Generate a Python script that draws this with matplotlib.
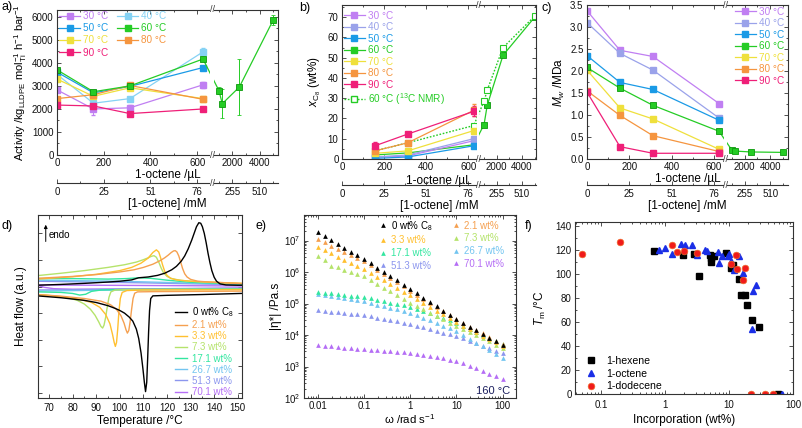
import numpy as np
import matplotlib
matplotlib.use("Agg")
import matplotlib.pyplot as plt
from matplotlib.lines import Line2D
from matplotlib.ticker import MultipleLocator, FormatStrFormatter, LogLocator, NullFormatter

plt.rcParams['font.family'] = ['Liberation Sans', 'DejaVu Sans']
plt.rcParams['mathtext.fontset'] = 'custom'
plt.rcParams['mathtext.rm'] = 'Liberation Sans'
plt.rcParams['mathtext.it'] = 'Liberation Sans:italic'
plt.rcParams['mathtext.bf'] = 'Liberation Sans:bold'
plt.rcParams['axes.linewidth'] = 0.8
plt.rcParams['axes.edgecolor'] = '#333333'
plt.rcParams['xtick.labelsize'] = 7
plt.rcParams['ytick.labelsize'] = 7
plt.rcParams['axes.labelsize'] = 8.5

# ---------------- data: (a)-(c) 1-octene series ----------------
vol_low = [0, 156, 312, 625]
vol_high = [1000, 1250, 2500, 5000]
vol_b = [156, 312, 625]
vol_ticks = [0, 200, 400, 600, 2000, 4000]
vol_tick_labels = ['0', '200', '400', '600', '2000', '4000']
conc_tick_labels = ['0', '25', '51', '76', '255', '510']
vol_minor = [100, 300, 500, 1000, 3000, 5000]
temp_labels = ['30 °C', '40 °C', '50 °C', '60 °C', '70 °C', '80 °C', '90 °C']

# (a) activity
act_30 = [2830, 2000, 2050, 3050]
act_40 = [3500, 2250, 2450, 4480]
act_50 = [3600, 2700, 2980, 3800]
act_60 = [3700, 2750, 3000, 4170]
act_60_hi = [2800, 2230, 2950, 5870]
act_70 = [3300, 2550, 2920, 2450]
act_80 = [2450, 2620, 3020, 2420]
act_90 = [2170, 2130, 1800, 2000]
err_30 = [80, 250, 120, 120]
err_40 = [60, 350, 80, 150]
err_50 = [50, 80, 60, 60]
err_60 = [60, 60, 60, 80]
err_60_hi = [150, 620, 1220, 200]
err_70 = [60, 60, 60, 60]
err_80 = [60, 80, 60, 60]
err_90 = [50, 80, 100, 50]

# (b) comonomer incorporation
xc_30 = [0.8, 1.5, 9.0]
xc_40 = [1.0, 2.0, 10.0]
xc_50 = [0.3, 1.0, 6.5]
xc_60 = [2.0, 3.0, 7.0]
xc_60_hi = [17.0, 26.5, 51.2, 70.0]
xc_70 = [2.8, 4.0, 14.0]
xc_80 = [4.0, 8.0, 24.0]
xc_90 = [6.5, 12.3, 23.5]
xc_err_80 = [0.5, 0.5, 3.0]
xc_err_90 = [2.0, 0.6, 2.5]
nmr_60 = [4.0, 8.0, 16.5]
nmr_60_hi = [28.5, 34.0, 55.0, 70.5]

# (c) Mw
mw_30 = [3.37, 2.47, 2.33, 1.26]
mw_40 = [3.10, 2.40, 2.02, 0.93]
mw_50 = [2.35, 1.74, 1.58, 0.88]
mw_60 = [2.08, 1.61, 1.22, 0.63]
mw_60_hi = [0.20, 0.18, 0.16, 0.15]
mw_70 = [2.02, 1.16, 0.91, 0.22]
mw_80 = [1.55, 0.99, 0.53, 0.17]
mw_90 = [1.52, 0.28, 0.13, 0.13]

col_30 = '#c07ff2'
col_40a = '#85d2f4'
col_40 = '#9aa2ea'
col_50 = '#1a9ae6'
col_60 = '#25cc25'
col_70 = '#efe03c'
col_80 = '#f5953f'
col_90 = '#ef1f78'

# ---------------- data: (d) DSC, (e) rheology ----------------
sample_labels = ['0 wt% C$_8$', '2.1 wt%', '3.3 wt%', '7.3 wt%',
                 '17.1 wt%', '26.7 wt%', '51.3 wt%', '70.1 wt%']
sample_colors = ['#000000', '#f5a050', '#ffc030', '#b5e36b',
                 '#33e6a0', '#73c5f0', '#8c96ee', '#b56ef5']

heat_T_0 = [65, 75, 85, 95, 100, 105, 108, 112, 116, 119, 122, 124, 126, 127.5, 129, 130.5, 131.5,
            132.5, 133.5, 134.3, 135, 135.8, 136.6, 137.4, 138.2, 139, 140, 141, 142.5, 145, 150, 155]
heat_y_0 = [0.05, 0.08, 0.12, 0.17, 0.2, 0.25, 0.33, 0.36, 0.42, 0.5, 0.63, 0.76, 0.95, 1.15, 1.42, 1.75, 2.0,
            2.25, 2.4, 2.38, 2.25, 2.0, 1.65, 1.25, 0.9, 0.6, 0.35, 0.2, 0.1, 0.06, 0.05, 0.05]
cool_T_0 = [65, 75, 85, 90, 95, 98, 100, 102, 104, 105.5, 107, 108, 109, 109.8, 110.4, 110.9, 111.4,
            111.8, 112.2, 112.6, 113.1, 114, 120, 135, 155]
cool_y_0 = [-0.35, -0.42, -0.52, -0.6, -0.72, -0.82, -0.9, -1.0, -1.15, -1.3, -1.6, -1.95, -2.5, -3.1, -3.6, -3.95, -3.6,
            -2.7, -1.7, -0.9, -0.45, -0.35, -0.33, -0.3, -0.25]
heat_T_2 = [65, 80, 90, 100, 106, 110, 114, 117, 119, 120.5, 121.8, 122.8, 123.5, 124.2, 125, 125.8,
            126.6, 127.5, 128.5, 130, 133, 138, 145, 155]
heat_y_2 = [0.31, 0.38, 0.45, 0.55, 0.63, 0.72, 0.84, 0.97, 1.08, 1.18, 1.28, 1.34, 1.35, 1.3, 1.15, 0.92,
            0.68, 0.48, 0.36, 0.27, 0.2, 0.17, 0.14, 0.1]
cool_T_2 = [65, 75, 85, 92, 96, 98.5, 100.5, 101.8, 102.6, 103.2, 103.8, 104.4, 105, 105.6, 106.3, 107.5, 115, 155]
cool_y_2 = [-0.3, -0.36, -0.45, -0.55, -0.68, -0.85, -1.1, -1.38, -1.62, -1.75, -1.65, -1.3, -0.85, -0.45,
            -0.25, -0.2, -0.19, -0.17]
heat_T_3 = [65, 80, 90, 100, 105, 109, 112, 114, 115.5, 116.5, 117.3, 118.1, 119, 120, 121.5, 124, 130, 140, 155]
heat_y_3 = [0.28, 0.37, 0.46, 0.6, 0.72, 0.88, 1.07, 1.28, 1.38, 1.3, 1.08, 0.82, 0.58, 0.42, 0.31, 0.25, 0.2, 0.16, 0.11]
cool_T_3 = [65, 75, 83, 88, 91.5, 94, 95.8, 96.9, 97.6, 98.1, 98.6, 99.1, 99.6, 100.2, 101, 103, 110, 155]
cool_y_3 = [-0.3, -0.38, -0.48, -0.6, -0.78, -1.05, -1.4, -1.8, -2.1, -2.25, -2.1, -1.6, -0.95, -0.45,
            -0.22, -0.15, -0.13, -0.12]
heat_T_7 = [65, 75, 85, 95, 102, 107, 110, 112, 113.5, 114.5, 115.5, 116.5, 117.5, 118.5, 120, 122, 126, 135, 155]
heat_y_7 = [0.41, 0.5, 0.6, 0.72, 0.82, 0.92, 1.01, 1.08, 1.14, 1.16, 1.1, 0.92, 0.7, 0.52, 0.38, 0.3, 0.23, 0.17, 0.1]
cool_T_7 = [65, 72, 78, 82, 85, 87.5, 89.5, 91, 92, 92.7, 93.3, 94, 94.7, 95.4, 96.2, 98, 105, 155]
cool_y_7 = [-0.3, -0.35, -0.42, -0.52, -0.66, -0.85, -1.08, -1.32, -1.5, -1.56, -1.45, -1.15, -0.75, -0.4,
            -0.2, -0.13, -0.11, -0.1]
heat_T_17 = [65, 80, 95, 103, 108, 113, 120, 130, 155]
heat_y_17 = [0.3, 0.3, 0.28, 0.3, 0.33, 0.31, 0.24, 0.16, 0.08]
cool_T_17 = [65, 75, 80, 83, 85.5, 88, 92, 100, 155]
cool_y_17 = [-0.2, -0.22, -0.26, -0.32, -0.29, -0.18, -0.13, -0.11, -0.09]
heat_T_26 = [65, 100, 130, 155]
heat_y_26 = [0.24, 0.2, 0.13, 0.08]
cool_T_26 = [65, 90, 155]
cool_y_26 = [-0.17, -0.14, -0.08]
heat_T_51 = [65, 110, 155]
heat_y_51 = [0.2, 0.14, 0.06]
cool_T_51 = [65, 155]
cool_y_51 = [-0.13, -0.06]
heat_T_70 = [65, 110, 155]
heat_y_70 = [0.06, 0.04, 0.02]
cool_T_70 = [65, 68, 72, 80, 120, 155]
cool_y_70 = [0.05, -0.03, -0.08, -0.1, -0.08, -0.05]

freq = [0.01, 0.0139, 0.0193, 0.0268, 0.0373, 0.0518, 0.072, 0.1, 0.139, 0.193, 0.268, 0.373, 0.518, 0.72,
        1, 1.39, 1.93, 2.68, 3.73, 5.18, 7.2, 10, 13.9, 19.3, 26.8, 37.3, 51.8, 72, 100]
eta_0 = [1.82e7, 1.38e7, 1.05e7, 7.9e6, 5.9e6, 4.5e6, 3.4e6, 2.6e6, 1.9e6, 1.38e6, 1.02e6, 7.4e5, 5.5e5, 4.0e5,
         2.95e5, 2.14e5, 1.55e5, 1.12e5, 8.1e4, 6.0e4, 4.4e4, 3.2e4, 2.4e4, 1.86e4, 1.41e4, 1.07e4, 8.1e3, 6.3e3, 4.8e3]
eta_2 = [1.1e7, 8.7e6, 6.9e6, 5.5e6, 4.4e6, 3.5e6, 2.75e6, 2.2e6, 1.62e6, 1.17e6, 8.7e5, 6.5e5, 4.7e5, 3.5e5,
         2.57e5, 1.9e5, 1.41e5, 1.05e5, 7.8e4, 5.75e4, 4.3e4, 3.2e4, 2.45e4, 1.86e4, 1.45e4, 1.12e4, 8.7e3, 6.6e3, 5.1e3]
eta_3 = [6.2e6, 4.9e6, 3.9e6, 3.1e6, 2.5e6, 2.0e6, 1.58e6, 1.26e6, 9.5e5, 7.2e5, 5.5e5, 4.2e5, 3.16e5, 2.4e5,
         1.82e5, 1.38e5, 1.05e5, 7.9e4, 6.0e4, 4.6e4, 3.5e4, 2.6e4, 2.0e4, 1.58e4, 1.23e4, 9.5e3, 7.6e3, 5.9e3, 4.6e3]
eta_7 = [3.3e6, 2.4e6, 1.58e6, 1.41e6, 1.17e6, 9.8e5, 8.5e5, 7.4e5, 5.6e5, 4.3e5, 3.2e5, 2.45e5, 1.86e5, 1.41e5,
         1.07e5, 8.3e4, 6.6e4, 5.1e4, 4.1e4, 3.2e4, 2.5e4, 1.95e4, 1.55e4, 1.23e4, 9.8e3, 7.8e3, 6.3e3, 5.0e3, 4.0e3]
eta_17 = [2.3e5, 2.2e5, 2.1e5, 1.95e5, 1.86e5, 1.78e5, 1.7e5, 1.62e5, 1.48e5, 1.32e5, 1.2e5, 1.07e5, 9.8e4, 8.7e4,
          7.9e4, 6.8e4, 5.75e4, 4.9e4, 4.1e4, 3.5e4, 2.95e4, 2.5e4, 2.0e4, 1.58e4, 1.26e4, 1.02e4, 8.1e3, 6.5e3, 5.1e3]
eta_26 = [1.95e5, 1.82e5, 1.7e5, 1.58e5, 1.48e5, 1.38e5, 1.29e5, 1.2e5, 1.07e5, 9.3e4, 8.3e4, 7.4e4, 6.6e4, 5.75e4,
          5.1e4, 4.3e4, 3.5e4, 2.9e4, 2.4e4, 2.0e4, 1.62e4, 1.35e4, 1.02e4, 7.6e3, 5.75e3, 4.4e3, 3.3e3, 2.45e3, 1.86e3]
eta_51 = [6.2e4, 5.9e4, 5.5e4, 5.25e4, 5.0e4, 4.8e4, 4.5e4, 4.3e4, 3.9e4, 3.5e4, 3.2e4, 2.95e4, 2.75e4, 2.5e4,
          2.3e4, 2.0e4, 1.78e4, 1.55e4, 1.38e4, 1.2e4, 1.07e4, 9.3e3, 7.8e3, 6.5e3, 5.4e3, 4.6e3, 3.8e3, 3.16e3, 2.6e3]
eta_70 = [4.8e3, 4.6e3, 4.4e3, 4.2e3, 4.0e3, 3.9e3, 3.7e3, 3.55e3, 3.4e3, 3.3e3, 3.16e3, 3.0e3, 2.9e3, 2.8e3,
          2.7e3, 2.5e3, 2.3e3, 2.14e3, 1.95e3, 1.82e3, 1.66e3, 1.55e3, 1.29e3, 1.05e3, 8.7e2, 7.2e2, 6.0e2, 4.9e2, 4.1e2]

# ---------------- data: (f) Tm vs incorporation ----------------
hex_x = [0.67, 1.88, 2.85, 3.43, 5.0, 5.2, 5.3, 5.8, 9.1, 10.9, 11.6, 14.4, 15.6, 17.7, 18.8, 23.2, 29.3, 58]
hex_y = [118.5, 115.7, 116.5, 98, 115.7, 113, 110, 114.6, 117, 105, 107, 95.9, 82, 82, 74.4, 61.4, 55.4, 0]
oct_x = [0.79, 1.0, 1.26, 1.8, 2.04, 2.65, 3.2, 4.2, 4.5, 6.6, 7.0, 7.8, 9.5, 9.9, 10.9, 11.9, 14.4, 16.6,
         23.7, 26.5, 22.9, 67]
oct_y = [119.8, 121.5, 116.5, 124.8, 123.7, 124.2, 115.7, 119.8, 118.7, 118, 108.8, 114.6, 114.6, 116, 110.5,
         103.3, 115, 101, 85.4, 90.4, 54, 0]
dod_x = [0.05, 0.2, 1.27, 1.51, 1.97, 3.2, 10.9, 12.9, 13.4, 16.6, 17.5, 21.8, 37, 49]
dod_y = [116.5, 126.5, 124, 118, 118.5, 117, 107.7, 115.7, 104.3, 94.5, 105, 0, 0, 0]

# ---------------- layout helpers ----------------
W, H = 803, 428
fig = plt.figure(figsize=(W / 100, H / 100), dpi=100)


def rect(l, t, r, b):
    return [l / W, 1 - b / H, (r - l) / W, (b - t) / H]


def origin_ticks(ax, top=True, right=True):
    ax.tick_params(which='both', direction='in', top=top, right=right, width=0.6,
                   color='#333333', labelcolor='#111111', pad=2.5)
    ax.tick_params(which='major', length=3)
    ax.tick_params(which='minor', length=1.6)


def broken_scale(xb, c, s):
    def fwd(x):
        x = np.asarray(x, dtype=float)
        return np.where(x <= xb, x, c + s * x)

    def inv(u):
        u = np.asarray(u, dtype=float)
        return np.where(u <= xb, u, np.where(u >= c + s * xb, (u - c) / s, xb))
    return fwd, inv


def octene_axes(l, t, r, b, sec_y, xb, c, s, xmax, xlab_pad):
    ax = fig.add_axes(rect(l, t, r, b))
    sec = fig.add_axes(rect(l, sec_y - 0.4, r, sec_y + 0.4))
    fns = broken_scale(xb, c, s)
    gap_off = (c + s * xb - xb) * (r - l) / fns[0](xmax) / 2
    for a, labels, ys, band in ((ax, vol_tick_labels, (0, 1), (-0.03, 1.03)),
                                (sec, conc_tick_labels, (0,), (-4, 5))):
        a.set_xscale('function', functions=fns)
        a.set_xlim(0, xmax)
        a.set_xticks(vol_ticks, labels=labels)
        a.set_xticks(vol_minor, minor=True)
        a.axvspan(xb, xb + 1e-6, ymin=band[0], ymax=band[1], color='white', lw=0,
                  zorder=5, clip_on=False)
        for y in ys:
            a.annotate('//', xy=(xb, y), xycoords=('data', 'axes fraction'),
                       xytext=(gap_off, 0), textcoords='offset pixels', ha='center',
                       va='center', fontsize=6.5, color='#333333', zorder=6,
                       annotation_clip=False)
    origin_ticks(ax)
    origin_ticks(sec, top=False, right=False)
    sec.patch.set_visible(False)
    for sp in ('left', 'right', 'top'):
        sec.spines[sp].set_visible(False)
    sec.set_yticks([])
    ax.set_xlabel('1-octene /µL', labelpad=xlab_pad)
    sec.set_xlabel('[1-octene] /mM', labelpad=0.5)
    return ax


def color_legend_text(leg, colors):
    for txt, col in zip(leg.get_texts(), colors):
        txt.set_color(col)


# ---------------- (a) activity ----------------
ax = octene_axes(57, 10, 278, 155, 183, 655, 634.8, 0.0582, 5347, 0.5)
a_vals = [act_30, act_40, act_50, act_70, act_80, act_90]
a_errs = [err_30, err_40, err_50, err_70, err_80, err_90]
a_cols = [col_30, col_40a, col_50, col_70, col_80, col_90]
for vals, errs, col in zip(a_vals, a_errs, a_cols):
    ax.errorbar(vol_low, vals, yerr=errs, color=col, marker='s', ms=3.8, lw=0.9,
                elinewidth=0.7, capsize=1.5, mec=col)
ax.errorbar(vol_low + vol_high, act_60 + act_60_hi, yerr=err_60 + err_60_hi, color=col_60,
            marker='s', ms=3.8, lw=0.9, elinewidth=0.7, capsize=1.5, mec='#0c9a0c', mew=0.6)
ax.set_ylim(0, 6300)
ax.yaxis.set_major_locator(MultipleLocator(1000))
ax.yaxis.set_minor_locator(MultipleLocator(500))
ax.set_ylabel(r'Activity /kg$_\mathregular{LLDPE}$ mol$_\mathregular{Ti}^{-1}$ h$^{-1}$ bar$^{-1}$',
              fontsize=8)
ax.yaxis.set_label_coords(-0.128, 0.5)
a_all_cols = [col_30, col_40a, col_50, col_60, col_70, col_80, col_90]
handles = [Line2D([], [], color=cc, marker='s', ms=3.8, lw=0.9) for cc in a_all_cols]
order = [0, 2, 4, 6, 1, 3, 5]
leg = ax.legend([handles[i] for i in order], [temp_labels[i] for i in order], ncol=2,
                loc='upper left', bbox_to_anchor=(0.005, 1.0), frameon=False, fontsize=7.2,
                handlelength=2.1, handletextpad=0.3, columnspacing=0.9, labelspacing=0.22,
                borderpad=0.1, borderaxespad=0)
color_legend_text(leg, [a_all_cols[i] for i in order])

# ---------------- (b) incorporation ----------------
ax = octene_axes(342, 5, 536, 159, 185, 640, 614.2, 0.0601, 5103, 1.5)
b_vals = [xc_30, xc_40, xc_50, xc_70, xc_80, xc_90]
b_errs = [None, None, None, None, xc_err_80, xc_err_90]
b_cols = [col_30, col_40, col_50, col_70, col_80, col_90]
for vals, errs, col in zip(b_vals, b_errs, b_cols):
    ax.errorbar(vol_b, vals, yerr=errs, color=col, marker='s', ms=3.8, lw=0.9,
                elinewidth=0.7, capsize=1.5, mec=col)
ax.plot(vol_b + vol_high, xc_60 + xc_60_hi, color=col_60, marker='s', ms=3.8, lw=0.9,
        mec='#0c9a0c', mew=0.6)
ax.plot(vol_b + vol_high, nmr_60 + nmr_60_hi, color=col_60, marker='s', ms=3.8, lw=1.0,
        ls=(0, (1.2, 1.2)), mfc='white', mec=col_60, mew=0.8)
ax.set_ylim(0, 76)
ax.yaxis.set_major_locator(MultipleLocator(10))
ax.yaxis.set_minor_locator(MultipleLocator(5))
ax.set_ylabel(r'$x_{\mathregular{C}_8}$ (wt%)')
ax.yaxis.set_label_coords(-0.098, 0.5)
b_all_cols = [col_30, col_40, col_50, col_60, col_70, col_80, col_90]
handles = [Line2D([], [], color=cc, marker='s', ms=3.8, lw=0.9) for cc in b_all_cols]
handles.append(Line2D([], [], color=col_60, marker='s', ms=3.8, lw=1.0, ls=(0, (1.2, 1.2)),
                      mfc='white'))
leg = ax.legend(handles, temp_labels + ['60 °C ($^{13}$C NMR)'], loc='upper left',
                bbox_to_anchor=(0.005, 0.97), frameon=False, fontsize=7.2, handlelength=2.1,
                handletextpad=0.3, labelspacing=0.15, borderpad=0.1, borderaxespad=0)
color_legend_text(leg, b_all_cols + [col_60])

# ---------------- (c) Mw ----------------
ax = octene_axes(587, 5, 788, 159, 185, 650, 625.0, 0.0605, 5387, 0.5)
c_vals = [mw_30, mw_40, mw_50, mw_70, mw_80, mw_90]
c_cols = [col_30, col_40, col_50, col_70, col_80, col_90]
for vals, col in zip(c_vals, c_cols):
    ax.plot(vol_low, vals, color=col, marker='s', ms=3.8, lw=0.9)
ax.plot(vol_low + vol_high, mw_60 + mw_60_hi, color=col_60, marker='s', ms=3.8, lw=0.9,
        mec='#0c9a0c', mew=0.6)
ax.set_ylim(0, 3.5)
ax.yaxis.set_major_locator(MultipleLocator(0.5))
ax.yaxis.set_minor_locator(MultipleLocator(0.25))
ax.yaxis.set_major_formatter(FormatStrFormatter('%.1f'))
ax.set_ylabel(r'$M_w$ /MDa')
ax.yaxis.set_label_coords(-0.1, 0.5)
handles = [Line2D([], [], color=cc, marker='s', ms=3.8, lw=0.9) for cc in b_all_cols]
leg = ax.legend(handles, temp_labels, loc='upper right', bbox_to_anchor=(0.985, 0.995),
                frameon=False, fontsize=7.2, handlelength=2.1, handletextpad=0.3,
                labelspacing=0.15, borderpad=0.1, borderaxespad=0)
color_legend_text(leg, b_all_cols)

# ---------------- (d) DSC ----------------
ax = fig.add_axes(rect(38, 215, 242, 398))
heat_T = [heat_T_0, heat_T_2, heat_T_3, heat_T_7, heat_T_17, heat_T_26, heat_T_51, heat_T_70]
heat_y = [heat_y_0, heat_y_2, heat_y_3, heat_y_7, heat_y_17, heat_y_26, heat_y_51, heat_y_70]
cool_T = [cool_T_0, cool_T_2, cool_T_3, cool_T_7, cool_T_17, cool_T_26, cool_T_51, cool_T_70]
cool_y = [cool_y_0, cool_y_2, cool_y_3, cool_y_7, cool_y_17, cool_y_26, cool_y_51, cool_y_70]
for i in range(len(sample_labels) - 1, -1, -1):
    ax.plot(heat_T[i], heat_y[i], color=sample_colors[i], lw=1.0)
    ax.plot(cool_T[i], cool_y[i], color=sample_colors[i], lw=1.0, label=sample_labels[i])
ax.set_xlim(65.3, 151.8)
ax.set_ylim(-4.19, 2.69)
ax.xaxis.set_major_locator(MultipleLocator(10))
ax.xaxis.set_minor_locator(MultipleLocator(5))
ax.set_yticks([-4, -3, -2, -1, 0, 1, 2])
ax.yaxis.set_major_formatter(NullFormatter())
origin_ticks(ax)
ax.tick_params(axis='x', pad=3.5)
ax.set_xlabel('Temperature /°C', labelpad=1.5)
ax.set_ylabel('Heat flow (a.u.)')
ax.yaxis.set_label_coords(-0.052, 0.5)
ax.annotate('', xy=(0.038, 0.962), xytext=(0.038, 0.84), xycoords='axes fraction',
            arrowprops=dict(arrowstyle='-|>', lw=0.7, color='black', mutation_scale=5))
ax.text(0.052, 0.89, 'endo', transform=ax.transAxes, fontsize=7, va='center')
handles = [Line2D([], [], color=cc, lw=1.0) for cc in sample_colors]
leg = ax.legend(handles, sample_labels, loc='lower left', bbox_to_anchor=(0.665, 0.0),
                frameon=False, fontsize=7, handlelength=1.3, handletextpad=0.5,
                labelspacing=0.12, borderpad=0.1, borderaxespad=0)
color_legend_text(leg, sample_colors)

# ---------------- (e) rheology ----------------
ax = fig.add_axes(rect(304, 215, 516, 398))
etas = [eta_0, eta_2, eta_3, eta_7, eta_17, eta_26, eta_51, eta_70]
for i in range(len(etas) - 1, -1, -1):
    ax.plot(freq, etas[i], ls='none', marker='^', ms=3.4, color=sample_colors[i], mew=0)
ax.set_xscale('log')
ax.set_yscale('log')
ax.set_xlim(0.005, 195)
ax.set_ylim(100, 6.5e7)
ax.set_xticks([0.01, 0.1, 1, 10, 100], labels=['0.01', '0.1', '1', '10', '100'])
ax.xaxis.set_minor_locator(LogLocator(subs=np.arange(2, 10)))
ax.xaxis.set_minor_formatter(NullFormatter())
ax.yaxis.set_major_locator(LogLocator(numticks=10))
ax.yaxis.set_minor_locator(LogLocator(subs=np.arange(2, 10), numticks=20))
ax.yaxis.set_minor_formatter(NullFormatter())
origin_ticks(ax)
ax.set_xlabel(r'ω /rad s$^{-1}$', labelpad=0.5, fontsize=8.2)
ax.set_ylabel('|η*| /Pa.s')
ax.yaxis.set_label_coords(-0.104, 0.5)
ax.text(0.972, 0.04, '160 °C', transform=ax.transAxes, ha='right', va='center',
        fontsize=8, color='#1b1f5e')
handles = [Line2D([], [], ls='none', marker='^', ms=3.4, color=cc, mew=0) for cc in sample_colors]
order = [0, 2, 4, 6, 1, 3, 5, 7]
leg = ax.legend([handles[i] for i in order], [sample_labels[i] for i in order], ncol=2,
                loc='upper left', bbox_to_anchor=(0.348, 0.985), frameon=False, fontsize=7,
                handlelength=0.8, handletextpad=0.45, columnspacing=2.0, labelspacing=0.28,
                borderpad=0.1, borderaxespad=0)
color_legend_text(leg, [sample_colors[i] for i in order])

# ---------------- (f) Tm ----------------
ax = fig.add_axes(rect(575, 222, 793, 394))
ax.plot(hex_x, hex_y, ls='none', marker='s', ms=4.3, color='black', label='1-hexene')
ax.plot(oct_x, oct_y, ls='none', marker='^', ms=5.0, color='#1a2ee6', label='1-octene')
ax.plot(dod_x, dod_y, ls='none', marker='o', ms=4.8, color='#f01a1a', mec='#f06a2a',
        mew=0.5, label='1-dodecene')
ax.set_xscale('log')
ax.set_xlim(0.039, 100)
ax.set_ylim(0, 143)
ax.set_xticks([0.1, 1, 10, 100], labels=['0.1', '1', '10', '100'])
ax.xaxis.set_minor_locator(LogLocator(subs=np.arange(2, 10)))
ax.xaxis.set_minor_formatter(NullFormatter())
ax.yaxis.set_major_locator(MultipleLocator(20))
ax.yaxis.set_minor_locator(MultipleLocator(10))
origin_ticks(ax)
ax.tick_params(axis='x', pad=4)
ax.set_xlabel('Incorporation (wt%)', labelpad=3)
ax.set_ylabel(r'$T_\mathregular{m}$ /°C')
ax.yaxis.set_label_coords(-0.124, 0.5)
ax.legend(loc='lower left', bbox_to_anchor=(0.045, 0.01), frameon=False, fontsize=7.6,
          handlelength=1.0, handletextpad=0.9, labelspacing=0.25, borderpad=0.1,
          borderaxespad=0)

# ---------------- panel letters ----------------
for x, y, lab in [(1, 1, 'a)'), (299, 2, 'b)'), (542, 2, 'c)'),
                  (1, 220, 'd)'), (256, 220, 'e)'), (525, 220, 'f)')]:
    fig.text(x / W, 1 - y / H, lab, fontsize=9, va='top', ha='left')

fig.savefig('out.png', dpi=100)
